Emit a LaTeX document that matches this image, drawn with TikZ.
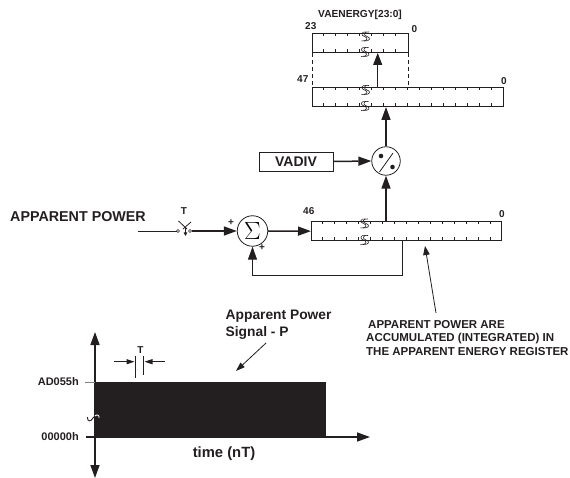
\documentclass[tikz,border=0pt]{standalone}
\usepackage{fontspec}
\setmainfont{Liberation Sans}
\usetikzlibrary{arrows.meta,calc}
\definecolor{ink}{HTML}{231F20}
\tikzset{
 x=1pt,y=-1pt,
 lbl/.style={font=\bfseries\fontsize{#1}{#1}\selectfont,text=ink,inner sep=0pt,align=left},
 lbl/.default=10,
 reg/.style={draw=ink,line width=0.8pt,minimum height=19.5pt,inner sep=0pt,anchor=north west},
 wire/.style={draw=ink,line width=1.5pt},
 thinwire/.style={draw=ink,line width=0.8pt},
 arr/.style={wire,-{Triangle[length=13pt,width=9pt]}},
 circ/.style={circle,draw=ink,line width=0.8pt,inner sep=0pt},
}
\newcommand{\breakmark}[2]{%
 \draw[ink,line width=0.6pt] (#1+2,#2-4.5) .. controls (#1-3.5,#2-5.5) and (#1-4,#2-1) .. (#1,#2) .. controls (#1+4,#2+1) and (#1+3.5,#2+5) .. (#1-3,#2+4.5);
 \draw[ink,line width=0.6pt] (#1+4.5,#2-4.5) .. controls (#1-1,#2-5.5) and (#1-1.5,#2-1) .. (#1+2.5,#2) .. controls (#1+6.5,#2+1) and (#1+6,#2+5) .. (#1-0.5,#2+4.5);
}
\newcommand{\regticks}[4]{% x0, y top, y bottom, count
 \foreach \i in {1,...,#4}{
  \draw[ink,line width=0.6pt] (#1+12*\i,#2) -- ++(0,3.5);
  \draw[ink,line width=0.6pt] (#1+12*\i,#3) -- ++(0,-3.5);
 }
}
\begin{document}
\begin{tikzpicture}
\useasboundingbox (0,0) rectangle (570,478);
% registers
\node[reg,minimum width=96pt] (top) at (312,33) {};
\node[reg,minimum width=191pt] (mid) at (312,87) {};
\node[reg,minimum width=190pt] (low) at (311,221) {};
\regticks{311.5}{33}{52.5}{7}
\regticks{311.5}{87}{106.5}{15}
\regticks{310}{221}{240.5}{15}
\breakmark{364.5}{36.5}\breakmark{364}{52}
\breakmark{364.5}{90}\breakmark{364}{106}
\breakmark{363.5}{223.5}\breakmark{363.5}{240}
\coordinate (d1) at (312.3,53);
\coordinate (d2) at (312.3,87);
\coordinate (d3) at (408,53);
\coordinate (d4) at (408,87);
\draw[ink,line width=0.8pt,dash pattern=on 4pt off 3pt] (d1) -- (d2);
\draw[ink,line width=0.8pt,dash pattern=on 4pt off 3pt] (d3) -- (d4);
% labels
\node[lbl=10.2,anchor=west] (vae) at (318,15) {VAENERGY[23:0]};
\node[lbl=10,anchor=west] (n23) at (305,25.7) {23};
\node[lbl=10,anchor=west] (n0a) at (411.5,29) {0};
\node[lbl=10,anchor=west] (n47) at (297,79) {47};
\node[lbl=10,anchor=west] (n0b) at (501,80.7) {0};
\node[lbl=10,anchor=west] (n46) at (303,210.7) {46};
\node[lbl=10,anchor=west] (n0c) at (499,214) {0};
% blocks
\node[circ,minimum size=28.5pt] (mul) at (386,161) {};
\node[circ,minimum size=30.5pt] (sum) at (252.5,231) {\fontsize{23}{23}\selectfont$\Sigma$};
\node[draw=ink,line width=0.8pt,minimum width=74pt,minimum height=19pt,inner sep=0pt,lbl=14] (vadiv) at (296,161.5) {VADIV};
\fill[ink] (381,156) circle (2.3pt) (392.5,167) circle (2.3pt);
\draw[ink,line width=0.8pt] (379.5,172) -- (393,153);
% connectors
\draw[arr] (vadiv.east) -- (mul.west);
\coordinate (c1) at (386,107);
\draw[arr] (mul.north) -- (c1);
\coordinate (c2) at (386,221);
\draw[arr] (c2) -- (mul.south);
\coordinate (c3) at (377.7,87);
\coordinate (c4) at (377.7,53);
\draw[draw=ink,line width=1pt,-{Triangle[length=12pt,width=9pt]}] (c3) -- (c4);
\draw[arr] (sum.east) -- (low.west);
% input and switch
\node[lbl=14.3,anchor=west] (ap) at (10,217) {APPARENT POWER};
\node[lbl=10] (tsw) at (184,211) {T};
\coordinate (in) at (138,231);
\coordinate (sa) at (176.5,231);
\coordinate (sb) at (191.5,231);
\draw[ink,line width=0.6pt] (in) -- (sa);
\draw[ink,line width=0.6pt] (178,231) circle (1.5pt) (190,231) circle (1.5pt);
\draw[ink,line width=0.8pt] (178.5,221) -- (187,229) (191,222) -- (183,229);
\draw[ink,line width=0.8pt,-{Triangle[length=3.5pt,width=3.5pt]}] (185.5,227) -- (185.5,236);
\draw[arr] (sb) -- (sum.west);
\node[lbl=10] (plus1) at (231,223) {+};
\node[lbl=10] (plus2) at (262,248) {+};
% feedback
\coordinate (f1) at (402.5,240.5);
\coordinate (f2) at (402.5,275);
\draw[thinwire] (f1) -- (f2);
\draw[thinwire,-{Triangle[length=13pt,width=9pt]}] (f2) -| (sum.south);
% callouts
\node[lbl=11.5,anchor=west] (acc1) at (368,325) {APPARENT POWER ARE};
\node[lbl=11.5,anchor=west] (acc2) at (366,338.5) {ACCUMULATED (INTEGRATED) IN};
\node[lbl=11.5,anchor=west] (acc3) at (366,352) {THE APPARENT ENERGY REGISTER};
\coordinate (k1) at (436,313);
\coordinate (k2) at (425,246);
\draw[thinwire,-{Triangle[length=9pt,width=6.5pt]}] (k1) -- (k2);
\node[lbl=13.8,anchor=west] (sig1) at (225.5,316.5) {Apparent Power};
\node[lbl=13.8,anchor=west] (sig2) at (225.5,332.5) {Signal - P};
\coordinate (k3) at (266,343);
\coordinate (k4) at (236,371);
\draw[thinwire,-{Triangle[length=9pt,width=6pt]}] (k3) -- (k4);
% chart
\fill[ink] (94.5,382) rectangle (326,437.5);
\coordinate (o) at (95,437);
\coordinate (yt) at (95,332);
\coordinate (yb) at (95,478);
\coordinate (xr) at (370,437);
\draw[arr] (o) -- (yt);
\draw[arr] (o) -- (yb);
\draw[arr] (o) -- (xr);
\draw[gray,line width=0.8pt] (85,382.5) -- (95,382.5);
\draw[ink,line width=1.2pt] (86,437) -- (95,437);
\node[lbl=11,anchor=east] (y1) at (79,382) {AD055h};
\node[lbl=11,anchor=east] (y2) at (79,437) {00000h};
\node[lbl=14.8] (tx) at (224,453.5) {time (nT)};
\draw[ink,line width=0.9pt] (87.5,417) .. controls (87,422) and (91,422) .. (93,418) -- (95,416);
\draw[white,line width=0.9pt] (95,416) .. controls (96,414) and (100,415) .. (99,418);
% T marker
\draw[ink,line width=0.7pt] (135,355.5) -- (135,377.5);
\draw[ink,line width=0.7pt] (143.3,355.5) -- (143.3,375);
\node[lbl=10] (tm) at (140.5,350.5) {T};
\coordinate (m1) at (114,361.7);
\coordinate (m2) at (165,361.7);
\coordinate (m3) at (134.5,361.7);
\coordinate (m4) at (144.5,361.7);
\draw[draw=ink,line width=1.2pt,-{Triangle[length=8pt,width=5pt]}] (m1) -- (m3);
\draw[draw=ink,line width=1.2pt,-{Triangle[length=8pt,width=5pt]}] (m2) -- (m4);
\end{tikzpicture}
\end{document}
